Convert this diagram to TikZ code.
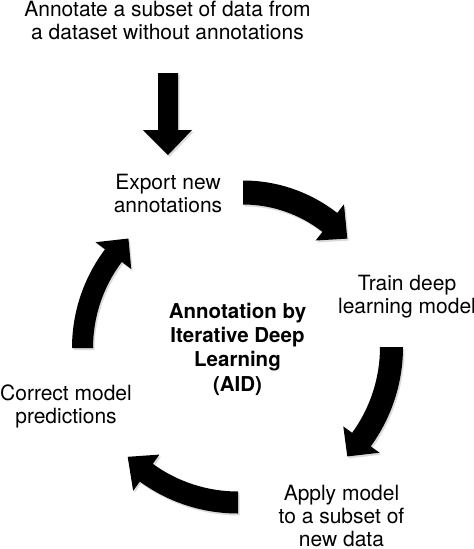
\documentclass[tikz,border=0pt]{standalone}
\usepackage{fontspec}
\setmainfont{TeX Gyre Heros}
\usetikzlibrary{calc}
\newcommand{\cycarrow}[8]{%
  \fill[#8] ($(#1)+(#5:{(#2+#3)*1pt})$)
    arc[start angle=#5, end angle=#6, radius={(#2+#3)*1pt}]
    -- ($(#1)+(#6:{(#2+#4)*1pt})$)
    -- ($(#1)+(#7:{#2*1pt})$)
    -- ($(#1)+(#6:{(#2-#4)*1pt})$)
    -- ($(#1)+(#6:{(#2-#3)*1pt})$)
    arc[start angle=#6, end angle=#5, radius={(#2-#3)*1pt}]
    -- cycle;}
\begin{document}
\begin{tikzpicture}[x=1pt,y=1pt,
  lbl/.style={align=center, inner sep=0pt, anchor=base,
    font=\fontsize{21}{23}\selectfont},
  boldlbl/.style={align=center, inner sep=0pt, anchor=base,
    font=\fontsize{20.5}{24.2}\selectfont\bfseries},
  arrowfill/.style={fill=black},
  shadowfill/.style={fill=black, opacity=0.14}]
\useasboundingbox (0,0) rectangle (474,-549);
\fill[white] (0,0) rectangle (474,-549);

% labels (anchor base = baseline of the last line)
\node[lbl] (title) at (167.5,-39) {Annotate a subset of data from\\a dataset without annotations};
\node[lbl] (export) at (168,-212) {Export new\\annotations};
\node[lbl] (train) at (407,-313) {Train deep\\learning model};
\node[boldlbl] (aid) at (237.5,-391) {Annotation by\\Iterative Deep\\Learning\\(AID)};
\node[lbl] (correct) at (66,-423) {Correct model\\predictions};
\node[lbl] (apply) at (341.5,-546) {Apply model\\to a subset of\\new data};

% straight block arrow from title to export
\coordinate (dtop) at (168,-73);
\coordinate (dtip) at (168,-155);
\fill[shadowfill] ([shift={(1.5,-2)}]dtop) ++(-10,0) -- ++(20,0) -- ++(0,-57) -- ++(14,0)
  -- ([shift={(1.5,-2)}]dtip) -- ++(-25,25) -- ++(15,0) -- cycle;
\fill[arrowfill] (dtop) ++(-10,0) -- ++(20,0) -- ++(0,-57) -- ++(14,0)
  -- (dtip) -- ++(-25,25) -- ++(15,0) -- cycle;

% cycle centres
\coordinate (c1) at (243,-333.5);
\coordinate (c2) at (234,-347);
\coordinate (c3) at (238,-346.5);
\coordinate (c4) at (236,-348);
\coordinate (c1s) at (244.5,-335.5);
\coordinate (c2s) at (235.5,-349);
\coordinate (c3s) at (239.5,-348.5);
\coordinate (c4s) at (237.5,-350);

% shadows
\cycarrow{c1s}{141}{12}{23}{90}{52}{42.3}{shadowfill}
\cycarrow{c2s}{157.5}{11.5}{22.4}{0}{-36}{-44}{shadowfill}
\cycarrow{c3s}{156}{11}{22.4}{-90}{-126}{-135}{shadowfill}
\cycarrow{c4s}{153.5}{10.5}{22.3}{180}{143}{134.5}{shadowfill}

% export -> train
\cycarrow{c1}{141}{12}{23}{90}{52}{42.3}{arrowfill}
% train -> apply
\cycarrow{c2}{157.5}{11.5}{22.4}{0}{-36}{-44}{arrowfill}
% apply -> correct
\cycarrow{c3}{156}{11}{22.4}{-90}{-126}{-135}{arrowfill}
% correct -> export
\cycarrow{c4}{153.5}{10.5}{22.3}{180}{143}{134.5}{arrowfill}
\end{tikzpicture}
\end{document}
